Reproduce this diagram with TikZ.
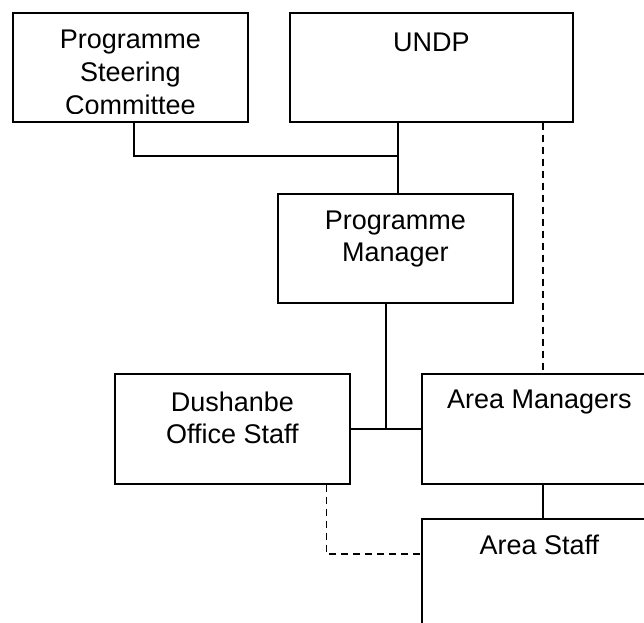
\documentclass[tikz,border=0pt]{standalone}
\usepackage{fontspec}
\setmainfont{Liberation Sans}
\usetikzlibrary{positioning}

\tikzset{
  orgbox/.style={draw, line width=1.6pt, minimum width=235pt, minimum height=109pt, inner sep=0pt, anchor=north west},
  boxtext/.style={anchor=north, inner sep=0pt, align=center, font=\fontsize{27}{32}\selectfont},
  link/.style={line width=1.6pt},
  dashlink/.style={line width=1.6pt, dash pattern=on 7pt off 5pt},
}

\begin{document}
\begin{tikzpicture}[x=1pt, y=-1pt]
    \useasboundingbox (0,0) rectangle (644,622);
    \clip (0,0) rectangle (644,622);

    % Boxes
    \node[orgbox] (psc) at (12,12) {};
    \node[orgbox, minimum width=283pt] (undp) at (289,12) {};
    \node[orgbox] (pm) at (277,193) {};
    \node[orgbox, minimum height=110pt] (dos) at (114,373) {};
    \node[orgbox, minimum height=110pt] (am) at (421,373) {};
    \node[orgbox, minimum height=130pt] (areastaff) at (421,518) {};

    % Texts
    \begin{scope}
        \clip (psc.north west) rectangle ([yshift=9pt]psc.south east);
        \node[boxtext, font=\fontsize{27}{33}\selectfont, below=18pt of psc.north] (psc-t) {Programme\\Steering\\Committee};
    \end{scope}
    \node[boxtext, below=21pt of undp.north] (undp-t) {UNDP};
    \node[boxtext, below=18pt of pm.north] (pm-t) {Programme\\Manager};
    \node[boxtext, below=19pt of dos.north] (dos-t) {Dushanbe\\Office Staff};
    \node[boxtext, below=17pt of am.north] (am-t) {Area Managers};
    \node[boxtext, below=17pt of areastaff.north] (areastaff-t) {Area Staff};

    % Lines
    \coordinate (j1) at (398,156);
    \draw[link] ([xshift=3.5pt]psc.south) |- (j1);
    \draw[link] (undp.south -| j1) -- (pm.north -| j1);
    \draw[link] ([xshift=-9.5pt]pm.south) -- ([xshift=-9.5pt]pm.south |- dos.east);
    \draw[link] (dos.east) -- (am.west);
    \draw[link] ([xshift=3.5pt]am.south) -- ([xshift=3.5pt]am.south |- areastaff.north);
    \draw[dashlink] ([xshift=3.5pt]am.north |- undp.south) -- ([xshift=3.5pt]am.north);
    \draw[dashlink] ([xshift=-24pt]dos.south east) |- ([yshift=-36pt]areastaff.north west);
\end{tikzpicture}
\end{document}
